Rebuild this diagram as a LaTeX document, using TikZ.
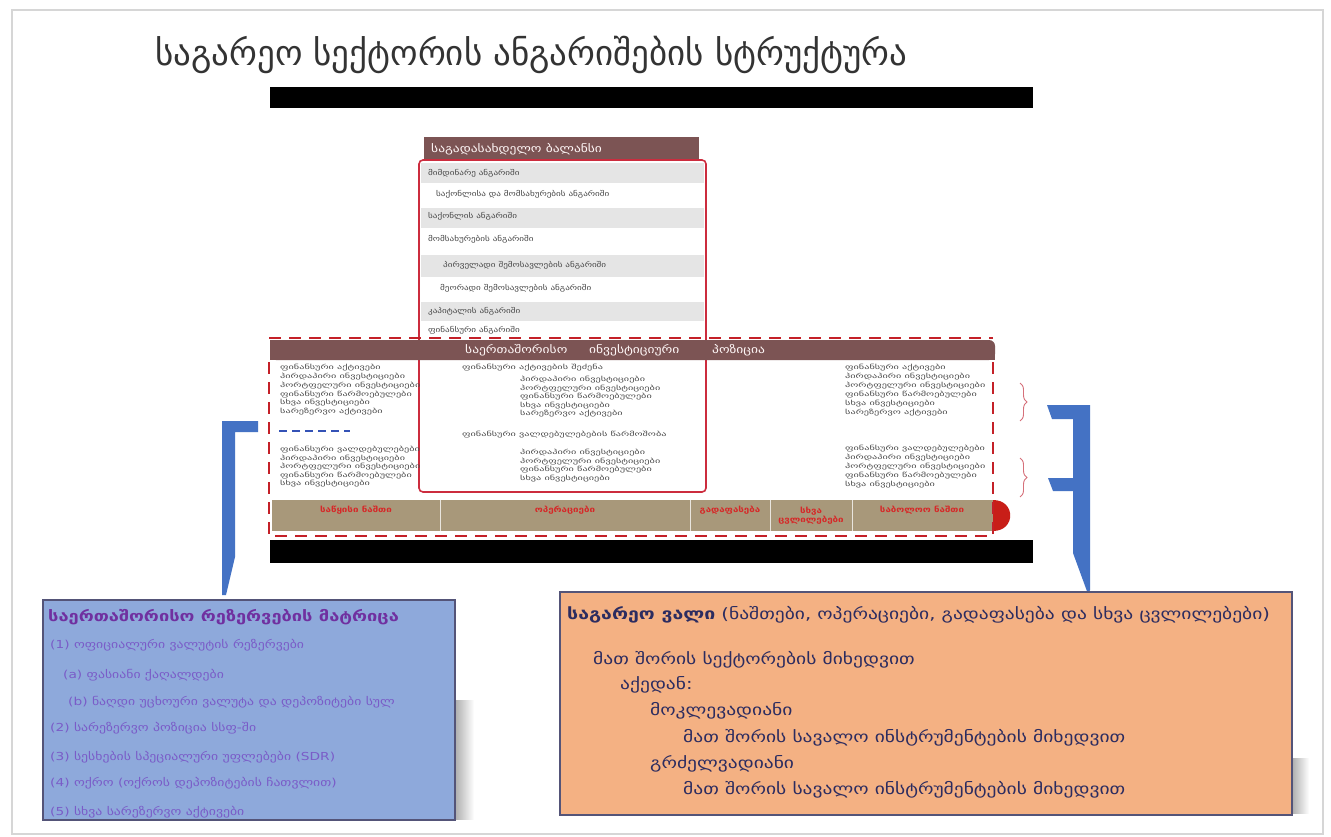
\documentclass[tikz,border=0pt]{standalone}
\usepackage{fontspec}
\setmainfont{DejaVu Sans}
\newfontfamily\wide[FakeStretch=1.25]{DejaVu Sans}
\newfontfamily\wider[FakeStretch=1.6]{DejaVu Sans}
\usetikzlibrary{decorations.pathreplacing}

\definecolor{headbrown}{RGB}{124,84,84}
\definecolor{rowgrey}{RGB}{229,229,229}
\definecolor{boxred}{RGB}{204,44,62}
\definecolor{dashred}{RGB}{196,32,40}
\definecolor{barolive}{RGB}{168,152,122}
\definecolor{bartext}{RGB}{214,40,40}
\definecolor{capred}{RGB}{200,30,24}
\definecolor{calloutblue}{RGB}{68,114,196}
\definecolor{resfill}{RGB}{142,169,219}
\definecolor{resborder}{RGB}{84,84,120}
\definecolor{restitle}{RGB}{112,48,160}
\definecolor{resitem}{RGB}{122,92,200}
\definecolor{debtfill}{RGB}{244,177,131}
\definecolor{debttext}{RGB}{44,44,96}
\definecolor{bracepink}{RGB}{214,112,122}
\definecolor{sepblue}{RGB}{52,82,182}

\tikzset{
  txt/.style={anchor=west, inner sep=0pt},
  rowtxt/.style={txt, font=\wide\fontsize{7.3}{8}\selectfont, text=black!72},
  tinytxt/.style={txt, font=\wider\fontsize{6.4}{7}\selectfont, text=black!70},
  headtxt/.style={txt, font=\wide\fontsize{10.8}{11}\selectfont, text=white!88!pink},
  bartxt/.style={inner sep=0pt, font=\wide\bfseries\fontsize{7.8}{9}\selectfont, text=bartext, align=center},
  restxt/.style={txt, font=\wide\fontsize{11}{12}\selectfont, text=resitem},
  debttxt/.style={txt, font=\wide\fontsize{15.6}{17}\selectfont, text=debttext},
  curlybrace/.style={draw=bracepink, line width=0.9pt, decorate, decoration={brace, amplitude=7pt}},
}

\begin{document}
\begin{tikzpicture}[x=1pt, y=-1pt]
\useasboundingbox (0,0) rectangle (1331,837);
\fill[white] (0,0) rectangle (1331,837);
% slide frame
\draw[black!16, line width=2pt] (12,10) rectangle (1323,834);

% heading and bars
\node[txt, font=\fontsize{35}{38}\selectfont, text=black!80] (title) at (155,55) {საგარეო სექტორის ანგარიშების სტრუქტურა};
\fill[black] (270,87) rectangle (1033,108);
\fill[black] (270,540) rectangle (1033,563);

% balance of payments table
\fill[headbrown] (424,137) rectangle (699,160);
\node[headtxt] (bop) at (431,149) {საგადასახდელო ბალანსი};
\foreach \ya/\yb in {163/183, 208/228, 255/277, 302/321}
  \fill[rowgrey] (421,\ya) rectangle (704,\yb);
\draw[boxred, line width=1.6pt, rounded corners=4pt] (419,345) -- (419,160) -- (706,160) -- (706,492) -- (419,492) -- (419,345);
\node[rowtxt] (r1) at (428,173) {მიმდინარე ანგარიში};
\node[rowtxt] (r2) at (436,194) {საქონლისა და მომსახურების ანგარიში};
\node[rowtxt] (r3) at (428,216) {საქონლის ანგარიში};
\node[rowtxt] (r4) at (428,239) {მომსახურების ანგარიში};
\node[rowtxt] (r5) at (443,265) {პირველადი შემოსავლების ანგარიში};
\node[rowtxt] (r6) at (440,288) {მეორადი შემოსავლების ანგარიში};
\node[rowtxt] (r7) at (428,311) {კაპიტალის ანგარიში};
\node[rowtxt] (r8) at (428,330) {ფინანსური ანგარიში};

% international investment position
\fill[headbrown, rounded corners=6pt] (270,340) rectangle (995,360);
\fill[headbrown] (270,340) rectangle (300,360);
\fill[headbrown] (960,350) rectangle (995,360);
\node[headtxt] (iip1) at (465,350) {საერთაშორისო};
\node[headtxt] (iip2) at (589,350) {ინვესტიციური};
\node[headtxt] (iip3) at (712,350) {პოზიცია};

% asset and liability lists
\foreach \t [count=\i] in {ფინანსური აქტივები, პირდაპირი ინვესტიციები, პორტფელური ინვესტიციები, ფინანსური წარმოებულები, სხვა ინვესტიციები, სარეზერვო აქტივები}{
  \node[tinytxt] (la\i) at (280,{359+8.8*\i}) {\t};
  \node[tinytxt] (ra\i) at (845,{359+8.9*\i}) {\t};
}
\foreach \t [count=\i] in {ფინანსური ვალდებულებები, პირდაპირი ინვესტიციები, პორტფელური ინვესტიციები, ფინანსური წარმოებულები, სხვა ინვესტიციები}{
  \node[tinytxt] (ll\i) at (280,{441.5+8.4*\i}) {\t};
  \node[tinytxt] (rl\i) at (845,{440+9*\i}) {\t};
}
\draw[sepblue, line width=2.2pt, dash pattern=on 8pt off 5pt] (279,431) -- (350,431);
\node[tinytxt] (ma0) at (462,368) {ფინანსური აქტივების შეძენა};
\foreach \t [count=\i] in {პირდაპირი ინვესტიციები, პორტფელური ინვესტიციები, ფინანსური წარმოებულები, სხვა ინვესტიციები, სარეზერვო აქტივები}
  \node[tinytxt] (ma\i) at (520,{371+8.6*\i}) {\t};
\node[tinytxt] (ml0) at (462,435) {ფინანსური ვალდებულებების წარმოშობა};
\foreach \t [count=\i] in {პირდაპირი ინვესტიციები, პორტფელური ინვესტიციები, ფინანსური წარმოებულები, სხვა ინვესტიციები}
  \node[tinytxt] (ml\i) at (520,{443.5+8.8*\i}) {\t};

% stock-flow bar
\fill[barolive] (272,500) rectangle (993,531);
\foreach \xd in {440,690,770,852}
  \draw[white!75!barolive, line width=0.6pt] (\xd,500) -- (\xd,531);
\fill[capred] (993,500) .. controls (1016,500) and (1016,531) .. (993,531) -- cycle;
\node[bartxt] (f1) at (356,510) {საწყისი ნაშთი};
\node[bartxt] (f2) at (565,510) {ოპერაციები};
\node[bartxt] (f3) at (730,510) {გადაფასება};
\node[bartxt] (f4) at (811,516) {სხვა\\ცვლილებები};
\node[bartxt] (f5) at (922,510) {საბოლოო ნაშთი};

\draw[dashred, line width=2.8pt, dash pattern=on 12pt off 8pt] (269,338) -- (993,338);
\draw[dashred, line width=2.8pt, dash pattern=on 12pt off 8pt] (269,362) -- (269,536) -- (993,536) -- (993,362);

% braces
\draw[curlybrace] (1020,383) -- (1020,421);
\draw[curlybrace] (1020,458) -- (1020,497);

% callouts
\fill[calloutblue] (222,421) -- (258,421) -- (258,432) -- (235,432) -- (235,557) -- (226,595) -- (222,595) -- cycle;
\fill[calloutblue] (1047,405) -- (1090,405) -- (1090,590) -- (1088,594) -- (1073,553) -- (1073,491) -- (1053,491) -- (1048,478) -- (1073,478) -- (1073,419) -- (1052,419) -- cycle;

% shadows
\shade[left color=black!32, right color=white] (455,700) rectangle (474,819);
\shade[left color=black!32, right color=white] (1292,758) rectangle (1309,813);

% reserves template
\draw[resborder, fill=resfill, line width=1.5pt] (43,600) rectangle (455,820);
\node[txt, font=\wide\bfseries\fontsize{14.6}{16}\selectfont, text=restitle] (rt) at (48,617) {საერთაშორისო რეზერვების მატრიცა};
\node[restxt] (rs1) at (50,645) {(1) ოფიციალური ვალუტის რეზერვები};
\node[restxt] (rs2) at (63,675) {(a) ფასიანი ქაღალდები};
\node[restxt] (rs3) at (68,702) {(b) ნაღდი უცხოური ვალუტა და დეპოზიტები სულ};
\node[restxt] (rs4) at (50,728) {(2) სარეზერვო პოზიცია სსფ-ში};
\node[restxt] (rs5) at (50,757) {(3) სესხების სპეციალური უფლებები (SDR)};
\node[restxt] (rs6) at (50,783) {(4) ოქრო (ოქროს დეპოზიტების ჩათვლით)};
\node[restxt] (rs7) at (50,812) {(5) სხვა სარეზერვო აქტივები};

% external debt
\draw[resborder, fill=debtfill, line width=1.5pt] (560,592) rectangle (1292,815);
\node[debttxt] (dt) at (567,615) {\textbf{საგარეო ვალი} (ნაშთები, ოპერაციები, გადაფასება და სხვა ცვლილებები)};
\node[debttxt] (d1) at (593,660) {მათ შორის სექტორების მიხედვით};
\node[debttxt] (d2) at (620,685) {აქედან:};
\node[debttxt] (d3) at (650,711) {მოკლევადიანი};
\node[debttxt] (d4) at (683,738) {მათ შორის სავალო ინსტრუმენტების მიხედვით};
\node[debttxt] (d5) at (650,764) {გრძელვადიანი};
\node[debttxt] (d6) at (683,790) {მათ შორის სავალო ინსტრუმენტების მიხედვით};
\end{tikzpicture}
\end{document}
